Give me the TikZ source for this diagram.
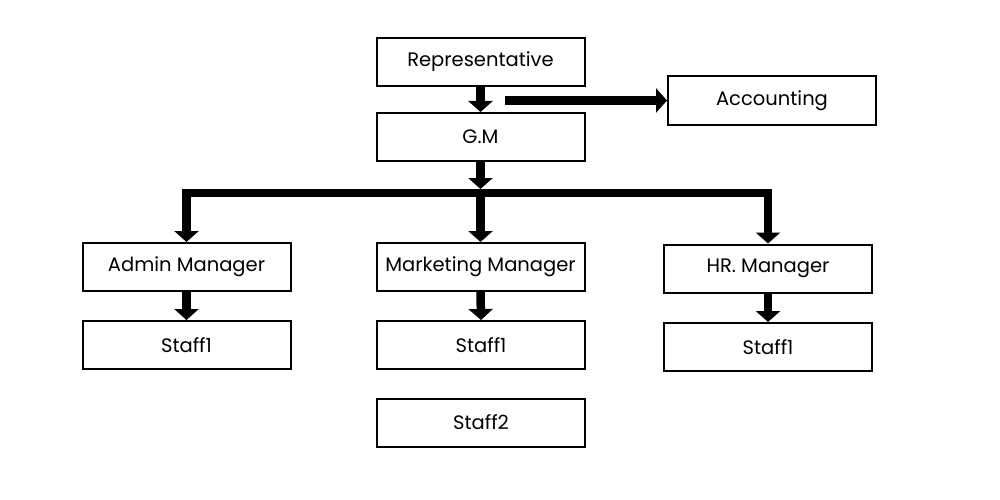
\documentclass[tikz,border=0pt]{standalone}
\usepackage{fontspec}
\setmainfont{Poppins}
\usetikzlibrary{arrows.meta}
\begin{document}
\begin{tikzpicture}[x=1pt,y=-1pt,
  box/.style={draw=black, line width=2pt, minimum width=208pt, minimum height=48pt, inner sep=0pt, font=\fontsize{19.5}{23}\selectfont},
  arr/.style={line width=8.5pt, -{Triangle[width=24pt,length=11pt]}},
  busline/.style={line width=8.5pt, line join=miter, {Triangle[width=24pt,length=11pt]}-{Triangle[width=24pt,length=11pt]}}]
\useasboundingbox[fill=white] (0,0) rectangle (1000,500);
\node[box] (rep) at (480.5,62) {Representative};
\node[box] (acc) at (772,100.5) {Accounting};
\node[box] (gm)  at (480.5,137) {G.M};
\node[box] (adm) at (186.5,267) {Admin Manager};
\node[box] (mkt) at (480.5,267) {Marketing Manager};
\node[box] (hr)  at (768,268.5) {HR. Manager};
\node[box] (s1a) at (186.5,345) {Staff1};
\node[box] (s1m) at (481,345) {Staff1};
\node[box] (s1h) at (768,347) {Staff1};
\node[box] (s2)  at (481,422.5) {Staff2};
\coordinate (accstart) at (505,100.5);
\coordinate (bus) at (480.5,193);
\coordinate (bustop) at (480.5,189);
\draw[arr] (rep.south) -- (gm.north);
\draw[arr] (accstart) -- (acc.west);
\draw[arr] (gm.south) -- (bustop);
\draw[busline] (adm.north) |- (bus) -| (hr.north);
\draw[arr] (bus) -- (mkt.north);
\draw[arr] (adm.south) -- (s1a.north);
\draw[arr] (mkt.south) -- (s1m.north);
\draw[arr] (hr.south) -- (s1h.north);
\end{tikzpicture}
\end{document}
